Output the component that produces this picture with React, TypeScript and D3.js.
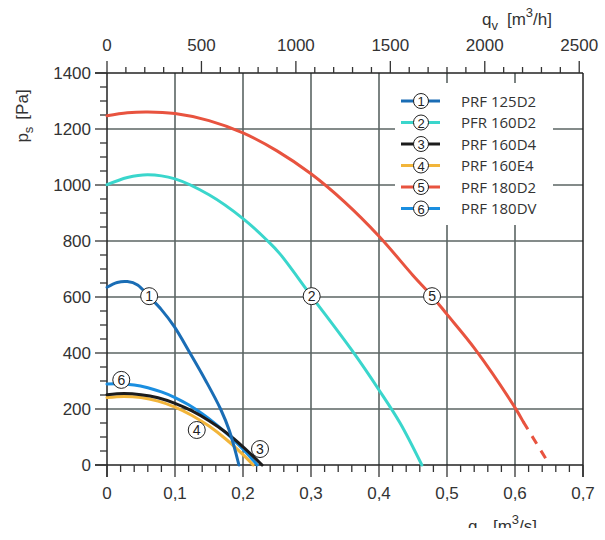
import React from "react";
import * as d3 from "d3";

// fan curves: [q m3/s, ps Pa]
const curve1 = [
  [0, 635], [0.015, 652], [0.03, 655], [0.045, 643], [0.062, 601], [0.08, 555],
  [0.099, 494], [0.122, 400], [0.145, 302], [0.167, 200], [0.18, 122], [0.194, 0],
];
const curve2 = [
  [0, 1001], [0.03, 1027], [0.06, 1037], [0.1, 1022], [0.15, 965], [0.2, 880],
  [0.236, 801], [0.254, 755], [0.3, 605], [0.36, 410], [0.4, 268], [0.431, 150], [0.463, 0],
];
const curve3 = [
  [0, 251], [0.025, 255], [0.05, 251], [0.075, 240], [0.1, 220], [0.125, 193],
  [0.15, 158], [0.175, 116], [0.2, 65], [0.228, 0],
];
const curve4 = [
  [0, 241], [0.025, 245], [0.05, 241], [0.075, 228], [0.1, 207], [0.125, 177],
  [0.15, 139], [0.175, 92], [0.2, 37], [0.215, 0],
];
const curve5 = [
  [0, 1247], [0.03, 1258], [0.06, 1261], [0.1, 1255], [0.15, 1230], [0.2, 1186],
  [0.25, 1122], [0.3, 1040], [0.35, 938], [0.4, 817], [0.45, 677], [0.478, 603],
  [0.5, 538], [0.541, 415], [0.6, 205], [0.612, 155],
];
const curve5Dashed = [[0.612, 155], [0.651, 0]];
const curve6 = [
  [0, 289], [0.015, 290], [0.04, 286], [0.06, 276], [0.08, 261], [0.1, 241],
  [0.12, 215], [0.14, 183], [0.16, 146], [0.18, 104], [0.2, 56], [0.221, 0],
];

const names = ["PRF 125D2", "PFR 160D2", "PRF 160D4", "PRF 160E4", "PRF 180D2", "PRF 180DV"];
const colors = ["#1a6db5", "#3ad6cc", "#1c1c1c", "#f2b53a", "#e8533f", "#1a8ee0"];
const curves = [curve1, curve2, curve3, curve4, curve5, curve6];
const drawOrder = [1, 4, 3, 5, 2, 0];

// numbered markers on the curves [index, q, ps]
const markers = [
  [1, 0.062, 603], [2, 0.301, 603], [5, 0.478, 603],
  [6, 0.021, 304], [4, 0.132, 125], [3, 0.225, 57],
];

const xTicks = [0, 0.1, 0.2, 0.3, 0.4, 0.5, 0.6, 0.7];
const yTicks = [0, 200, 400, 600, 800, 1000, 1200, 1400];
const topTicks = [0, 500, 1000, 1500, 2000, 2500];

const W = 605;
const H = 528;
const left = 107, right = 583, top = 73, bottom = 465;

export default function App() {
  const x = d3.scaleLinear().domain([0, 0.7]).range([left, right]);
  const y = d3.scaleLinear().domain([0, 1400]).range([bottom, top]);
  const xh = d3.scaleLinear().domain([0, 0.7 * 3600]).range([left, right]);

  const line = d3
    .line<number[]>()
    .x((d) => x(d[0]))
    .y((d) => y(d[1]))
    .curve(d3.curveCatmullRom.alpha(0.5));

  const minorX = d3.range(0, 0.7001, 0.02);
  const minorY = d3.range(0, 1401, 50);
  const minorTop = d3.range(0, 2501, 100);
  const fmt = (v: number) => (v === 0 ? "0" : d3.format(".1f")(v).replace(".", ","));

  const font = "'Liberation Sans', Arial, sans-serif";
  const grid = "#5b6463";
  const legX = 401;
  const legY = (i: number) => 101 + i * 21.5;

  return (
    <svg
      width={W}
      height={H}
      style={{ position: "absolute", left: 0, top: 0, background: "#fff" }}
      fontFamily={font}
    >
      {/* grid */}
      <g stroke={grid} strokeWidth={1.6}>
        {xTicks.slice(1, -1).map((t) => (
          <line key={"gx" + t} x1={x(t)} x2={x(t)} y1={top} y2={bottom} />
        ))}
        {yTicks.slice(1, -1).map((t) => (
          <line key={"gy" + t} x1={left} x2={right} y1={y(t)} y2={y(t)} />
        ))}
      </g>
      <rect x={395} y={83} width={158} height={142} fill="#fff" />

      {/* frame / axes */}
      <g stroke="#222" strokeWidth={1.5}>
        <line x1={left} x2={left} y1={top} y2={bottom + 12} />
        <line x1={right} x2={right} y1={top} y2={bottom + 12} />
        <line x1={left - 12} x2={right} y1={bottom} y2={bottom} />
        <line x1={left - 12} x2={right} y1={top} y2={top} />
      </g>
      <g stroke="#333" strokeWidth={1.3}>
        {minorX.map((t, i) => (
          <line key={"mx" + i} x1={x(t)} x2={x(t)} y1={bottom} y2={bottom + (i % 5 === 0 ? 12 : 7)} />
        ))}
        {minorY.map((t, i) => (
          <line key={"my" + i} x1={left} x2={left - (i % 4 === 0 ? 12 : 7)} y1={y(t)} y2={y(t)} />
        ))}
        {minorTop.map((t, i) => (
          <line key={"mt" + i} x1={xh(t)} x2={xh(t)} y1={top} y2={top - (i % 5 === 0 ? 12 : 6)} />
        ))}
      </g>

      {/* tick labels */}
      <g fontSize={17} fill="#333">
        {xTicks.map((t) => (
          <text key={"lx" + t} x={x(t)} y={499} textAnchor="middle">{fmt(t)}</text>
        ))}
        {yTicks.map((t) => (
          <text key={"ly" + t} x={91} y={y(t) + 6} textAnchor="end">{t}</text>
        ))}
        {topTicks.map((t) => (
          <text key={"lt" + t} x={xh(t)} y={51} textAnchor="middle">{t}</text>
        ))}
      </g>

      {/* axis titles */}
      <g fontSize={17} fill="#333">
        <text x={482} y={25}>
          q<tspan fontSize={13} dy={5}>v</tspan>
          <tspan dy={-5} dx={9}>[m</tspan>
          <tspan fontSize={13} dy={-8}>3</tspan>
          <tspan dy={8}>/h]</tspan>
        </text>
        <text x={468} y={532}>
          q<tspan fontSize={13} dy={5}>v</tspan>
          <tspan dy={-5} dx={9}>[m</tspan>
          <tspan fontSize={13} dy={-8}>3</tspan>
          <tspan dy={8}>/s]</tspan>
        </text>
        <text transform="translate(28,116) rotate(-90)" textAnchor="middle">
          p<tspan fontSize={13} dy={5}>s</tspan>
          <tspan dy={-5} dx={7}>[Pa]</tspan>
        </text>
      </g>

      {/* curves */}
      <g fill="none" strokeWidth={3} strokeLinecap="round">
        {drawOrder.map((i) => (
          <path key={"c" + i} d={line(curves[i] as number[][]) || ""} stroke={colors[i]} />
        ))}
        <path
          d={line(curve5Dashed as number[][]) || ""}
          stroke={colors[4]}
          strokeDasharray="9,8"
          strokeLinecap="butt"
        />
      </g>

      {/* markers */}
      {markers.map(([n, q, p]) => (
        <g key={"m" + n} transform={`translate(${x(q)},${y(p)})`}>
          <circle r={8.5} fill="#fff" stroke="#222" strokeWidth={1} />
          <text y={5} textAnchor="middle" fontSize={14} fill="#222">{n}</text>
        </g>
      ))}

      {/* legend */}
      {names.map((name, i) => (
        <g key={"lg" + i}>
          <line x1={legX} x2={legX + 39} y1={legY(i)} y2={legY(i)} stroke={colors[i]} strokeWidth={3} />
          <circle cx={legX + 20} cy={legY(i)} r={7.5} fill="#fff" stroke="#222" strokeWidth={1} />
          <text x={legX + 20} y={legY(i) + 5} textAnchor="middle" fontSize={13} fill="#222">{i + 1}</text>
          <text x={461} y={legY(i) + 5.5} fontSize={15} fill="#333" fontFamily="'Open Sans', sans-serif">
            {name}
          </text>
        </g>
      ))}
    </svg>
  );
}
